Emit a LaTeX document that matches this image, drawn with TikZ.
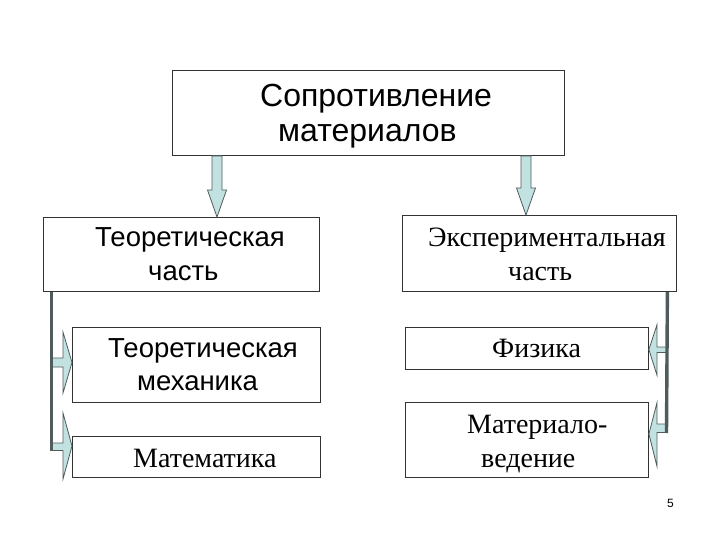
\documentclass[tikz,border=0pt]{standalone}
\usepackage{fontspec}
\setmainfont{Liberation Serif}
\setsansfont{Liberation Sans}
\usetikzlibrary{calc}
\definecolor{pale}{HTML}{C2E2E2}
\definecolor{edge}{HTML}{505B5B}
\begin{document}
\begin{tikzpicture}[x=1pt,y=-1pt,
  box/.style={draw=black!80, line width=0.9pt, inner sep=0pt, anchor=north west},
  barrow/.style={draw=edge, fill=pale, line width=0.8pt, line join=miter},
  vline/.style={draw=edge, line width=3.4pt},
  bigsans/.style={font=\sffamily\fontsize{32}{36}\selectfont, anchor=base west, inner sep=0pt},
  sanstxt/.style={font=\sffamily\fontsize{27.5}{30}\selectfont, anchor=base west, inner sep=0pt},
  seriftxt/.style={font=\rmfamily\fontsize{28}{30}\selectfont, anchor=base west, inner sep=0pt}]
\useasboundingbox (0,0) rectangle (720,540);
% boxes
\node[box, minimum width=392pt, minimum height=85pt] (top) at (172,70) {};
\node[box, minimum width=276pt, minimum height=74pt] (theo) at (43,217) {};
\node[box, minimum width=274pt, minimum height=76pt] (exp) at (402,215) {};
\node[box, minimum width=248pt, minimum height=75pt] (mech) at (72,327) {};
\node[box, minimum width=248pt, minimum height=41pt] (math) at (72,436) {};
\node[box, minimum width=243pt, minimum height=42pt] (phys) at (405,327) {};
\node[box, minimum width=243pt, minimum height=75pt] (matv) at (405,402) {};
% texts
\node[bigsans] (t1a) at (260,107) {Сопротивление};
\node[bigsans] (t1b) at (278,142) {материалов};
\node[sanstxt] (t2a) at (95,247) {Теоретическая};
\node[sanstxt] (t2b) at (148,280) {часть};
\node[seriftxt] (t3a) at (428,247) {Экспериментальная};
\node[seriftxt] (t3b) at (508,280) {часть};
\node[sanstxt] (t4a) at (108,357) {Теоретическая};
\node[sanstxt] (t4b) at (137,390) {механика};
\node[seriftxt] (t5) at (133,467) {Математика};
\node[seriftxt] (t6) at (492,357) {Физика};
\node[seriftxt] (t7a) at (467,433) {Материало-};
\node[seriftxt] (t7b) at (481,467) {ведение};
\node[font=\sffamily\fontsize{12}{14}\selectfont, anchor=base west, inner sep=0pt] (pg) at (667,507) {5};
% down arrows
\draw[barrow] let \p1=(top.south), \p2=(theo.north) in
  (212pt,\y1) -- (222pt,\y1) -- (222pt,\y2+27pt) -- (226.5pt,\y2+27pt) -- (217pt,\y2)
  -- (207.5pt,\y2+27pt) -- (212pt,\y2+27pt) -- cycle;
\draw[barrow] let \p1=(top.south), \p2=(exp.north) in
  (521pt,\y1) -- (531pt,\y1) -- (531pt,\y2+27pt) -- (535.5pt,\y2+27pt) -- (526pt,\y2)
  -- (516.5pt,\y2+27pt) -- (521pt,\y2+27pt) -- cycle;
% left bent connector
\coordinate (lbot) at (51.5,451);
\draw[barrow] let \p1=(mech.west) in
  (52pt,-358pt) -- (\x1-9pt,-358pt) -- (\x1-9pt,-332pt) -- (\x1,-362.5pt)
  -- (\x1-9pt,-393pt) -- (\x1-9pt,-367pt) -- (52pt,-367pt);
\draw[barrow] let \p1=(math.west) in
  (52pt,-443pt) -- (\x1-9pt,-443pt) -- (\x1-9pt,-413pt) -- (\x1,-446pt)
  -- (\x1-9pt,-479pt) -- (\x1-9pt,-450.5pt) -- (52pt,-450.5pt);
\draw[vline] ($(theo.south west)+(8.5,0)$) -- (lbot);
% right bent connector
\coordinate (rbot) at (666.5,433);
\draw[barrow] let \p1=(phys.east) in
  (666pt,-347pt) -- (\x1+8pt,-347pt) -- (\x1+8pt,-325pt) -- (\x1,-349.5pt)
  -- (\x1+8pt,-375pt) -- (\x1+8pt,-352.5pt) -- (666pt,-352.5pt);
\draw[barrow] let \p1=(matv.east) in
  (666pt,-424pt) -- (\x1+8pt,-424pt) -- (\x1+8pt,-403pt) -- (\x1,-434pt)
  -- (\x1+8pt,-466pt) -- (\x1+8pt,-432.5pt) -- (666pt,-432.5pt);
\draw[vline] (exp.south east |- exp.south) ++(-9.5,0) coordinate (rtop) -- (rbot);
\end{tikzpicture}
\end{document}
